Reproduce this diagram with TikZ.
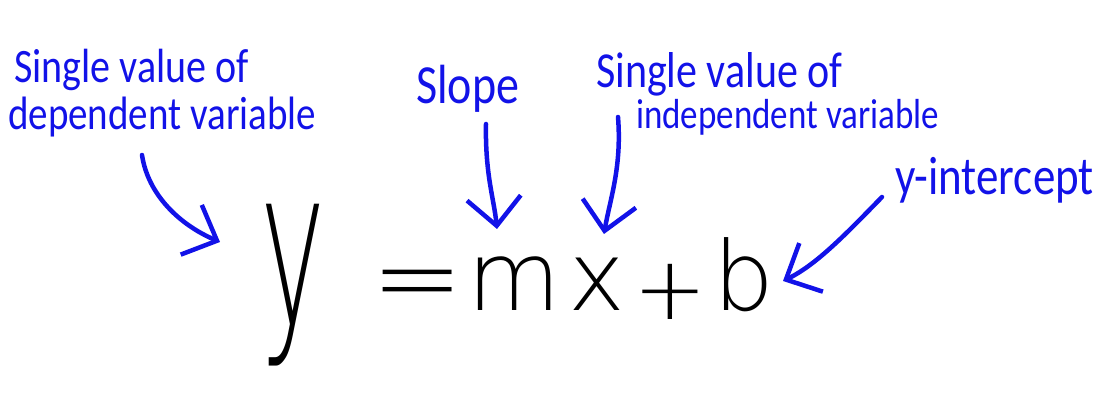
\documentclass[tikz,border=0pt]{standalone}
\usepackage{fontspec}
\setmainfont{Carlito}
\IfFontExistsTF{DejaVu Sans ExtraLight}{%
  \newfontfamily\inkfont{DejaVu Sans ExtraLight}}{%
  \IfFontExistsTF{DejaVu Sans Light}{%
    \newfontfamily\inkfont{DejaVu Sans Light}}{%
    \newfontfamily\inkfont{DejaVu Sans}}}
\usetikzlibrary{arrows.meta,calc}
\definecolor{pen}{RGB}{18,18,232}
\newcommand{\fsz}[1]{\fontsize{#1}{#1}\selectfont}
\newcommand{\tall}[1]{\scalebox{1}[1.2]{#1}}

\begin{document}
\begin{tikzpicture}[
      x=1pt, y=-1pt,
      note/.style={text=pen, inner sep=0pt, anchor=base west},
      sym/.style={inner sep=0pt, anchor=base, font=\inkfont\fsz{96}},
      pointer/.style={draw=pen, line width=4.5pt, line cap=round,
        -{Straight Barb[length=28pt,width=54pt]}},
    ]
    \useasboundingbox (0,0) rectangle (1111,403);

    % -------------------------------------------------------
    %  Equation
    % -------------------------------------------------------
    \node[sym] (ny) at (293,325) {\fsz{220}\scalebox{0.5}[1]{y}};
    \node[sym, anchor=center, font=\inkfont\fsz{110}] (neq) at (418,293) {=};
    \node[sym] (nm) at (514,311) {m};
    \node[sym] (nx) at (597,311) {x};
    \node[sym, anchor=center, font=\inkfont\fsz{88}] (nplus) at (670,292) {+};
    \node[sym] (nb) at (744,311) {b};

    % -------------------------------------------------------
    %  Labels
    % -------------------------------------------------------
    \node[note, font=\fsz{40}] (depA) at (14,83) {\tall{Single value of}};
    \node[note, font=\fsz{39}] (depB) at (8,130) {\tall{dependent variable}};

    \node[note, font=\fsz{46}] (slope) at (416,104) {\tall{Slope}};

    \node[note, font=\fsz{42}] (indA) at (596,88) {\tall{Single value of}};
    \node[note, font=\fsz{35}] (indB) at (636,129) {\tall{independent variable}};

    \node[note, font=\fsz{45}] (ycept) at (895,195) {\tall{y-intercept}};

    % -------------------------------------------------------
    %  Arrows
    % -------------------------------------------------------
    \draw[pointer] ($(depB.base west)+(134,25)$)
      .. controls +(6,40) and +(-40,-17) .. ($(ny.base)+(-73,-83)$);
    \draw[pointer] ($(slope.base west)+(70,20)$)
      .. controls +(-1,50) and +(-3,-30) .. ($(nm.base)+(-17,-82)$);
    \draw[pointer] ($(indB.base west)+(-18,-12)$)
      .. controls +(4,50) and +(6,-35) .. ($(nx.base)+(7,-77)$);
    \draw[pointer] ($(ycept.base west)+(-13,2)$)
      .. controls +(-37,38) and +(33,-16) .. ($(nb.base)+(39,-30)$);

  \end{tikzpicture}
\end{document}
